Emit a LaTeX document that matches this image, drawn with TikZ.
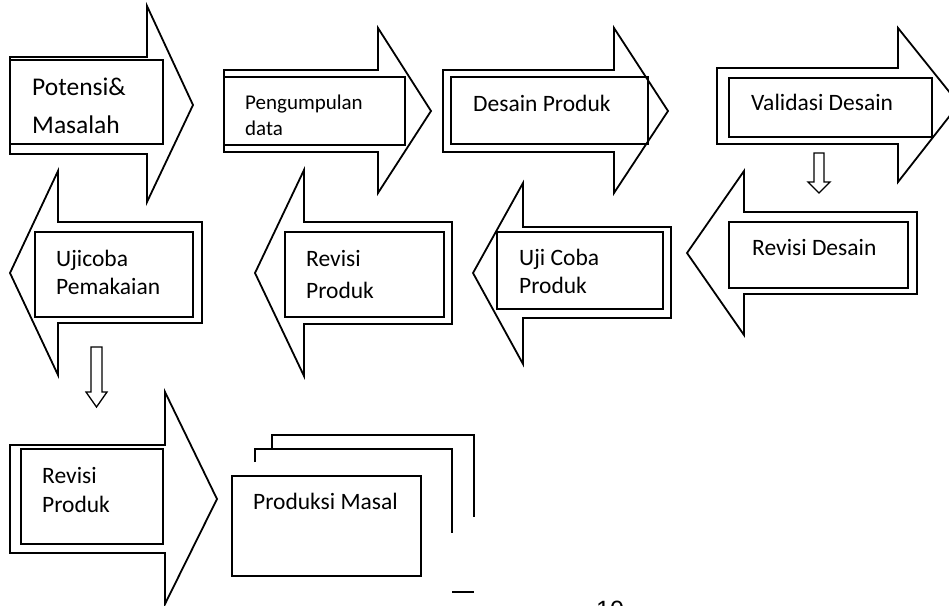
\documentclass[tikz,border=0pt]{standalone}
\usepackage{fontspec}
\setmainfont{Carlito}
\newfontfamily\pagefont{Liberation Sans}
\begin{document}
\begin{tikzpicture}[x=1pt,y=-1pt, line join=miter,
  outline/.style={draw=black, line width=1.8pt},
  smallarrow/.style={draw=black, line width=1.3pt},
  box/.style={draw=black, line width=1.8pt, rectangle, inner sep=0pt, outer sep=0pt},
  lbl/.style={anchor=base west, inner sep=0pt, font=\fontsize{23.5}{28}\selectfont},
]
\useasboundingbox (0,0) rectangle (949,605);
\clip (0,0) rectangle (949,605);

% ---------- row 1: right arrows ----------
\draw[outline] (10,57) -- (147,57) -- (147,6) -- (193,105) -- (147,202) -- (147,154) -- (10,154) -- cycle;
\node[box, minimum width=153pt, minimum height=84pt] (r1) at (86.5,102) {};
\node[lbl, font=\fontsize{25.5}{30}\selectfont] (t1a) at (32,95) {Potensi\&};
\node[lbl, font=\fontsize{25.5}{30}\selectfont] (t1b) at (32,133) {Masalah};

\draw[outline] (224,70) -- (378,70) -- (378,28) -- (431,111) -- (378,193) -- (378,152) -- (224,152) -- cycle;
\node[box, minimum width=181pt, minimum height=68pt] (r2) at (314.5,111) {};
\node[lbl, font=\fontsize{21}{25}\selectfont] (t2a) at (245,109) {Pengumpulan};
\node[lbl, font=\fontsize{21}{25}\selectfont] (t2b) at (245,135) {data};

\draw[outline] (443,70) -- (614,70) -- (614,28) -- (668,111) -- (614,193) -- (614,152) -- (443,152) -- cycle;
\node[box, minimum width=197pt, minimum height=67pt] (r3) at (549.5,110.5) {};
\node[lbl] (t3) at (473,111) {Desain Produk};

\draw[outline] (717,68) -- (898,68) -- (898,28) -- (959,104) -- (898,182) -- (898,144) -- (717,144) -- cycle;
\node[box, minimum width=203pt, minimum height=59pt] (r4) at (830.5,107.5) {};
\node[lbl] (t4) at (751,110) {Validasi Desain};

% small down arrow under Validasi Desain
\draw[smallarrow] (814,153) -- (824,153) -- (824,182) -- (830,182) -- (819,193) -- (808,182) -- (814,182) -- cycle;

% ---------- row 2: left arrows ----------
\draw[outline] (687,253) -- (744,171) -- (744,212) -- (917,212) -- (917,294) -- (744,294) -- (744,335) -- cycle;
\node[box, minimum width=179pt, minimum height=66pt] (r5) at (818.5,255) {};
\node[lbl] (t5) at (752,255) {Revisi Desain};

\draw[outline] (473,273) -- (523,183) -- (523,227) -- (671,227) -- (671,318) -- (523,318) -- (523,364) -- cycle;
\node[box, minimum width=166pt, minimum height=77pt] (r6) at (580,270.5) {};
\node[lbl] (t6a) at (519,265) {Uji Coba};
\node[lbl] (t6b) at (519,293) {Produk};

\draw[outline] (255,273) -- (304,170) -- (304,222) -- (452,222) -- (452,324) -- (304,324) -- (304,376) -- cycle;
\node[box, minimum width=159pt, minimum height=85pt] (r7) at (364.5,274.5) {};
\node[lbl] (t7a) at (306,266) {Revisi};
\node[lbl] (t7b) at (306,298) {Produk};

\draw[outline] (10,273) -- (58,171) -- (58,222) -- (202,222) -- (202,323) -- (58,323) -- (58,375) -- cycle;
\node[box, minimum width=158pt, minimum height=85pt] (r8) at (114,274.5) {};
\node[lbl] (t8a) at (56,266) {Ujicoba};
\node[lbl] (t8b) at (56,294) {Pemakaian};

% small down arrow under Ujicoba Pemakaian
\draw[smallarrow] (91,347) -- (102,347) -- (102,392) -- (107,392) -- (96.5,407) -- (86,392) -- (91,392) -- cycle;

% ---------- row 3 ----------
\draw[outline] (10,445) -- (165,445) -- (165,392) -- (217,499) -- (165,604) -- (165,553) -- (10,553) -- cycle;
\node[box, minimum width=142pt, minimum height=95pt] (r9) at (92,496.5) {};
\node[lbl] (t9a) at (42,483) {Revisi};
\node[lbl] (t9b) at (42,512) {Produk};

% multi-document Produksi Masal
\draw[outline] (272,448) -- (272,435) -- (474,435) -- (474,517);
\draw[outline] (255,462) -- (255,449) -- (452,449) -- (452,533);
\draw[outline] (452,592) -- (474,592);
\node[box, minimum width=189pt, minimum height=100pt] (r10) at (326.5,526) {};
\node[lbl] (t10) at (253,509) {Produksi Masal};

% page number (cut off at the bottom edge)
\node[anchor=base west, inner sep=0pt, font=\pagefont\fontsize{25}{30}\selectfont] (pg) at (596,618) {10};
\end{tikzpicture}
\end{document}
